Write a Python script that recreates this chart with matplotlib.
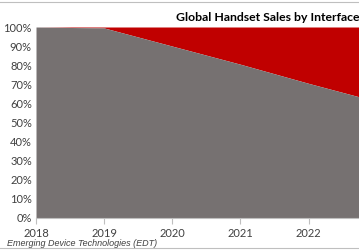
import matplotlib
matplotlib.use('Agg')
import matplotlib.pyplot as plt
from matplotlib.ticker import PercentFormatter

# share of handsets (gray = legacy interface, red = remainder up to 100%)
years = [2018, 2019, 2020, 2021, 2022, 2023]
gray_share = [100, 99.5, 90, 80.5, 70.5, 61]
total = [100, 100, 100, 100, 100, 100]
ytick_vals = [0, 10, 20, 30, 40, 50, 60, 70, 80, 90, 100]
xtick_vals = [2018, 2019, 2020, 2021, 2022]

fig = plt.figure(figsize=(3.59, 2.5), dpi=100)
ax = fig.add_axes([0.1003, 0.128, 0.8997, 0.764])

ax.fill_between(years, gray_share, total, color='#C00000', linewidth=0)
ax.fill_between(years, 0, gray_share, color='#767171', linewidth=0)

ax.set_xlim(2018, 2022.74)
ax.set_ylim(0, 100)
ax.set_yticks(ytick_vals)
ax.yaxis.set_major_formatter(PercentFormatter(decimals=0))
ax.set_xticks(xtick_vals)
ax.set_xticklabels([str(y) for y in xtick_vals])

for s in ['top', 'right', 'left']:
    ax.spines[s].set_visible(False)
ax.spines['bottom'].set_color('#BFBFBF')
ax.tick_params(axis='y', length=0, labelsize=8, colors='#404040', pad=3)
ax.tick_params(axis='x', length=4, width=0.8, color='#BFBFBF', labelsize=8,
               labelcolor='#404040', pad=3)
for lab in ax.get_xticklabels() + ax.get_yticklabels():
    lab.set_family('Lato')

fig.text(176 / 359, 1 - 17 / 250, 'Global Handset Sales by Interface', ha='left', va='center',
         fontsize=8.8, fontweight='bold', family='Lato', color='#000000')
fig.text(7 / 359, 1 - 243 / 250, 'Emerging Device Technologies (EDT)', ha='left', va='center',
         fontsize=6.5, style='italic', family='Liberation Sans', color='#404040')

# thin frame lines at top and bottom of the picture
fig.add_artist(plt.Line2D([0, 1], [0.992, 0.992], color='#BFBFBF', linewidth=0.8))
fig.add_artist(plt.Line2D([0, 1], [0.008, 0.008], color='#BFBFBF', linewidth=0.8))

fig.savefig('out.png', dpi=100)
